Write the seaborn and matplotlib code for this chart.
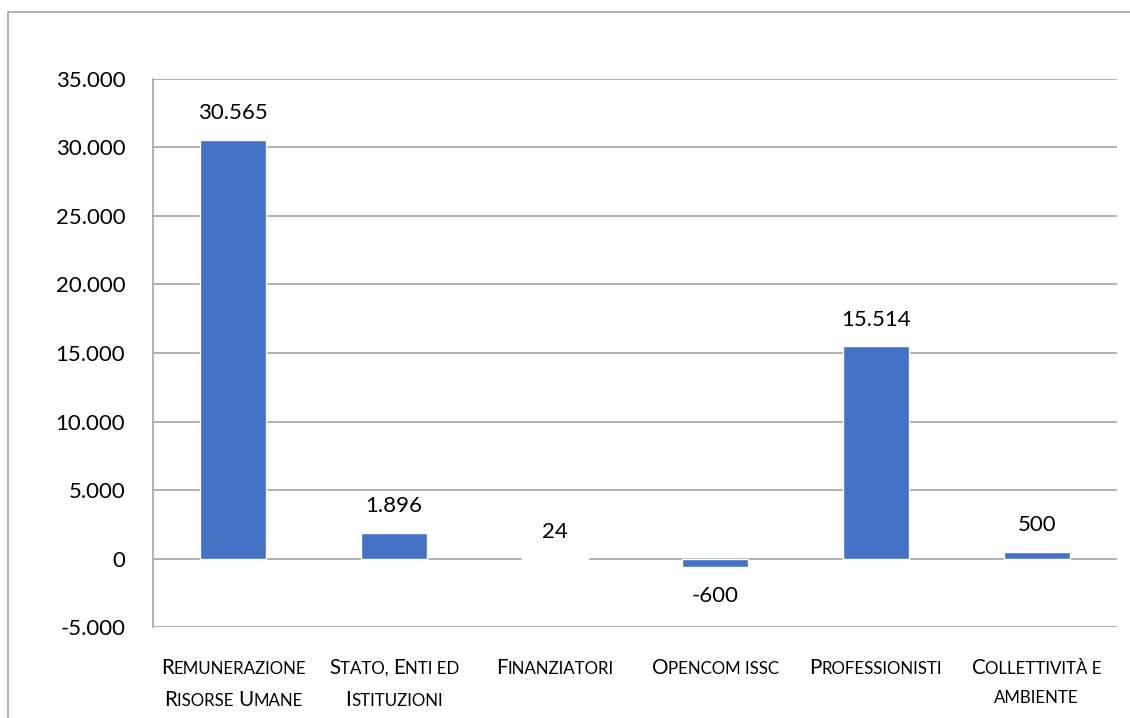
import matplotlib
matplotlib.use('Agg')
import matplotlib.pyplot as plt
import seaborn as sns
import pandas as pd
from matplotlib.offsetbox import TextArea, HPacker, VPacker, AnnotationBbox
from matplotlib.patches import Rectangle
from matplotlib.ticker import FuncFormatter, MultipleLocator

# dati
categorie = ['Remunerazione\nRisorse Umane', 'Stato, Enti ed\nIstituzioni', 'Finanziatori',
             'Opencom issc', 'Professionisti', 'Collettività e\nambiente']
valori = [30565, 1896, 24, -600, 15514, 500]
etichette = ['30.565', '1.896', '24', '-600', '15.514', '500']

sns.set_theme(style='white')
plt.rcParams['font.family'] = ['Lato', 'DejaVu Sans']

BLU = '#4472C4'
GRIGIO = '#A6A6A6'

fig = plt.figure(figsize=(11.3, 7.18), dpi=100)
ax = fig.add_axes([0.1354, 0.1267, 0.8531, 0.7633])

df = pd.DataFrame({'cat': categorie, 'val': valori})
sns.barplot(data=df, x='cat', y='val', color=BLU, saturation=1, width=0.41, ax=ax)

ax.set_ylim(-5000, 35000)
ax.yaxis.set_major_locator(MultipleLocator(5000))
ax.yaxis.set_major_formatter(FuncFormatter(lambda v, p: f'{int(v):,}'.replace(',', '.')))
ax.tick_params(axis='y', labelsize=16, length=0, pad=20, labelcolor='#000000')
ax.grid(axis='y', color=GRIGIO, linewidth=1.2)
ax.set_axisbelow(True)
for s in ['top', 'right', 'bottom']:
    ax.spines[s].set_visible(False)
ax.spines['left'].set_color(GRIGIO)
ax.spines['left'].set_linewidth(1.2)
ax.set_xlabel('')
ax.set_ylabel('')
ax.set_xticks(range(len(categorie)))
ax.set_xticklabels([''] * len(categorie))
ax.tick_params(axis='x', length=0)

# etichette valori
for i, (v, t) in enumerate(zip(valori, etichette)):
    dy = 19 if v >= 0 else -21
    ax.annotate(t, (i, v), xytext=(0, dy), textcoords='offset points',
                ha='center', va='center', fontsize=16, color='#000000')

# etichette categorie in maiuscoletto
BIG, SMALL = 14.8, 12.2


def riga_maiuscoletto(s):
    pezzi = []
    buf, big = '', None
    for c in s:
        is_big = c.isupper()
        if big is None or is_big == big:
            buf += c
        else:
            pezzi.append((buf, big))
            buf = c
        big = is_big
    pezzi.append((buf, big))
    figli = [TextArea(p.upper(), textprops=dict(fontsize=BIG if b else SMALL, color='#000000'))
             for p, b in pezzi]
    return HPacker(children=figli, align='baseline', pad=0, sep=0)


for i, cat in enumerate(categorie):
    righe = [riga_maiuscoletto(r) for r in cat.split('\n')]
    box = VPacker(children=righe, align='center', pad=0, sep=9)
    ab = AnnotationBbox(box, (i, -0.056), xycoords=ax.get_xaxis_transform(),
                        box_alignment=(0.5, 1), frameon=False, pad=0)
    ax.add_artist(ab)

# cornice esterna
fig.patches.append(Rectangle((8 / 1130, -0.05), 1.1, 1 - 12 / 718 + 0.05,
                             transform=fig.transFigure, fill=False,
                             edgecolor=GRIGIO, linewidth=1.2))

fig.savefig('out.png', dpi=100)
